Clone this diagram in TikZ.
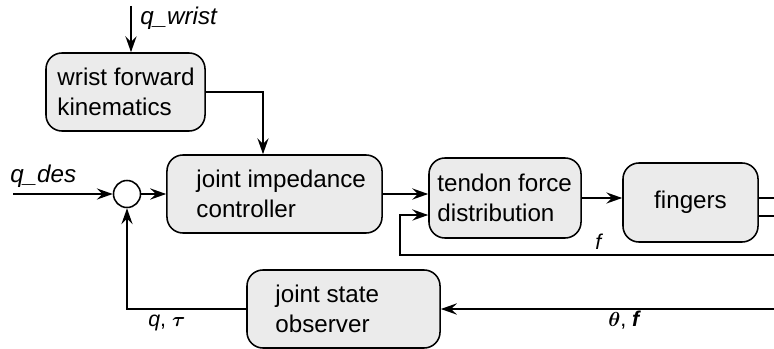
\documentclass[tikz,border=0pt]{standalone}
\usepackage[no-math]{fontspec}
\setmainfont{Liberation Sans}
\usepackage{amsmath}
\usepackage{bm}
\usetikzlibrary{arrows.meta}
\definecolor{boxgray}{HTML}{EBEBEB}

\begin{document}
\begin{tikzpicture}[x=0.025cm, y=-0.025cm, font=\fontsize{17.2}{21.3}\selectfont,
	>={Stealth[length=4mm, width=2.8mm, inset=1.4mm]}]
\useasboundingbox (0,0) rectangle (774,348);
\begin{scope}
	\tikzstyle{blk}=[draw, line width=1.1pt, rounded corners=0.4cm, fill=boxgray, inner sep=0pt]
	\tikzstyle{txt}=[align=left, inner sep=0pt, anchor=west]
	\tikzstyle{sig}=[line width=1.4pt, ->]
	\tikzstyle{lbl}=[inner sep=0pt, anchor=base west]
	\tikzstyle{small}=[lbl, font=\fontsize{15.2}{18}\selectfont]

	% blocks
	\node[blk, minimum width=3.975cm, minimum height=1.95cm] (wrist) at (125.5, 92) {};
	\node[blk, minimum width=5.375cm, minimum height=1.95cm] (jic) at (274.5, 194) {};
	\node[blk, minimum width=3.8cm, minimum height=2.0cm] (tendon) at (505, 198) {};
	\node[blk, minimum width=3.375cm, minimum height=1.975cm] (fingers) at (690.5, 202.5) {};
	\node[blk, minimum width=4.825cm, minimum height=1.95cm] (obs) at (343.5, 309) {};
	\node[draw, circle, fill=white, line width=1.1pt, minimum size=0.675cm, inner sep=0pt] (sum) at (127, 194) {};

	% block texts
	\node[txt] (wristtxt) at ([xshift=0.3cm]wrist.west) {wrist forward\\kinematics};
	\node[txt] (jictxt) at ([xshift=0.75cm]jic.west) {joint impedance\\controller};
	\node[txt] (tendontxt) at ([xshift=0.225cm]tendon.west) {tendon force\\distribution};
	\node[inner sep=0pt] (fingerstxt) at (fingers) {fingers};
	\node[txt] (obstxt) at ([xshift=0.725cm]obs.west) {joint state\\observer};

	% signals
	\node[lbl] (qw) at (140, 25) {\textit{q\_wrist}};
	\node[lbl] (qd) at (10, 182) {\textit{q\_des}};
	\node[small] (flbl) at (595, 249) {\textit{f}};
	\node[small] (thlbl) at (608, 326) {$\boldsymbol{\theta}$, \textbf{\textit{f}}};
	\node[small] (qtlbl) at (148, 326) {\textit{q}, $\boldsymbol{\tau}$};

	\coordinate (qwin) at (131, 6);
	\coordinate (qdin) at (13, 194);
	\coordinate (out1) at (780, 198);
	\coordinate (out2) at (780, 216);
	\coordinate (fbin) at (780, 255);
	\coordinate (fbc) at (400, 255);
	\coordinate (sens) at (780, 309);

	\draw [sig] (qwin) -- (wrist.north -| qwin);
	\draw [sig] (wrist.east) -| ([xshift=-0.2875cm]jic.north);
	\draw [sig] (qdin) -- (sum.west);
	\draw [sig] (sum) -- (jic);
	\draw [sig] (jic.east) -- (tendon.west |- jic.east);
	\draw [sig] (tendon.east) -- (fingers.west |- tendon.east);
	\draw [line width=1.4pt] (fingers.east |- out1) -- (out1);
	\draw [line width=1.4pt] (fingers.east |- out2) -- (out2);
	\draw [sig] (fbin) -- (fbc) |- ([yshift=-0.425cm]tendon.west);
	\draw [sig] (sens) -- (obs.east);
	\draw [sig] (obs.west) -| (sum.south);
\end{scope}
\end{tikzpicture}
\end{document}
